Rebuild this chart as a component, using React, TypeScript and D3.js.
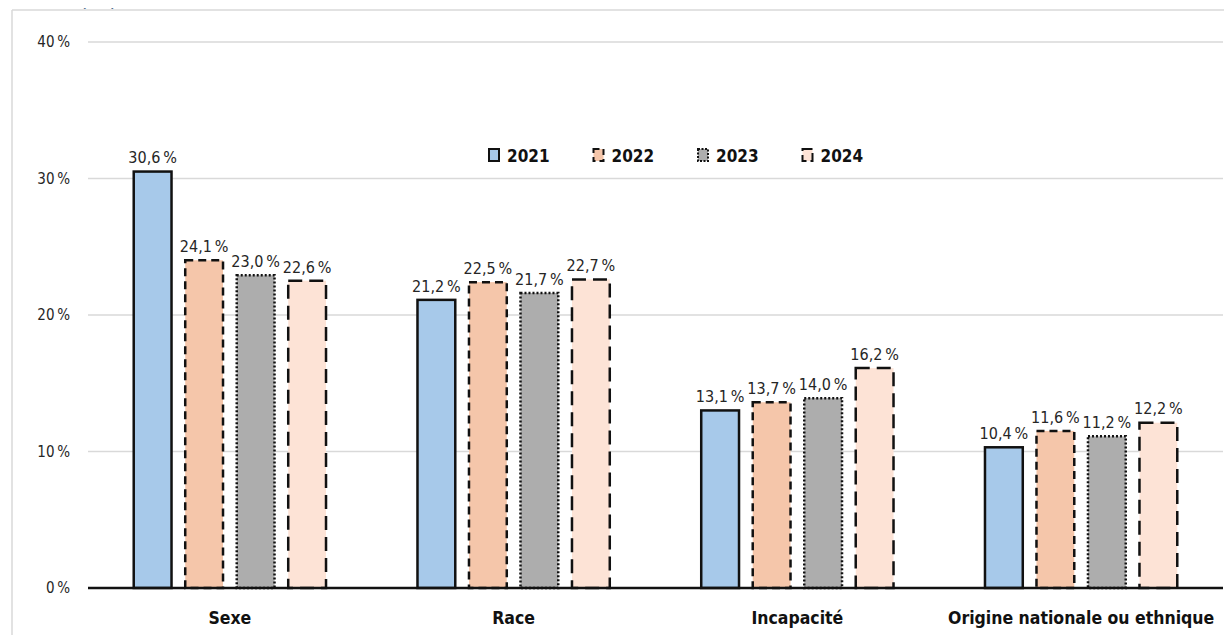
import React from "react";
import * as d3 from "d3";

const categories = ["Sexe", "Race", "Incapacité", "Origine nationale ou ethnique"];
const years = ["2021", "2022", "2023", "2024"];
const values2021 = [30.6, 21.2, 13.1, 10.4];
const values2022 = [24.1, 22.5, 13.7, 11.6];
const values2023 = [23.0, 21.7, 14.0, 11.2];
const values2024 = [22.6, 22.7, 16.2, 12.2];
const yTicks = [0, 10, 20, 30, 40];

const series = [values2021, values2022, values2023, values2024];
const fills = ["#a7c9ea", "#f5c6aa", "#adadad", "#fde3d6"];
const dashes = ["none", "8 5", "2 2", "14 7"];
const legendDashes = ["none", "6 4", "2 1.5", "10 4"];

const W = 1232;
const H = 643;
const COND = "'Liberation Sans Narrow', 'DejaVu Sans Condensed', 'Roboto Condensed', 'Open Sans', sans-serif";

const fmt = (v: number) => v.toFixed(1).replace(".", ",") + "\u202f%";

export default function App() {
  const x0 = d3.scaleBand().domain(categories).range([88, 1223]).paddingInner(0).paddingOuter(0);
  const y = d3.scaleLinear().domain([0, 40]).range([588, 42]);
  const bw = x0.bandwidth();
  const barW = bw * 0.142;
  const stride = bw * 0.1815;

  return (
    <div style={{ margin: -8 }}>
      <svg width={W} height={H} style={{ display: "block" }}>
        <rect x={0} y={0} width={W} height={H} fill="#fff" />
        <text x={9} y={5} fontFamily="'Liberation Sans', Arial, sans-serif" fontSize={18} fill="#4b6b8b">
          violence (HV), de 2021 à 2024
        </text>
        <line x1={12} x2={W} y1={10} y2={10} stroke="#d9d9d9" strokeWidth={1.5} />
        <line x1={12} x2={12} y1={10} y2={H} stroke="#d9d9d9" strokeWidth={1.5} />

        {yTicks.map((t) => (
          <g key={t}>
            {t > 0 && (
              <line x1={88} x2={1223} y1={y(t)} y2={y(t)} stroke="#d9d9d9" strokeWidth={1.5} />
            )}
            <text x={70} y={y(t) + 5} textAnchor="end" fontFamily={COND} fontSize={15} fill="#262626">
              {t + "\u202f%"}
            </text>
          </g>
        ))}

        {categories.map((c, ci) => {
          const cx = (x0(c) as number) + bw / 2;
          return (
            <g key={c}>
              {series.map((vals, si) => {
                const bx = cx + (si - 1.5) * stride - barW / 2;
                const top = y(vals[ci]);
                const inset = 1.25;
                return (
                  <g key={si}>
                    <rect
                      x={bx + inset}
                      y={top + inset}
                      width={barW - 2 * inset}
                      height={y(0) - top - inset}
                      fill={fills[si]}
                      stroke="#111"
                      strokeWidth={2.5}
                      strokeDasharray={dashes[si] === "none" ? undefined : dashes[si]}
                    />
                    <text
                      x={bx + barW / 2}
                      y={top - 7}
                      textAnchor="middle"
                      fontFamily={COND}
                      fontSize={16}
                      fill="#262626"
                    >
                      {fmt(vals[ci])}
                    </text>
                  </g>
                );
              })}
              <text
                x={cx}
                y={624}
                textAnchor="middle"
                fontFamily={COND}
                fontWeight="bold"
                fontSize={17.5}
                fill="#111"
              >
                {c}
              </text>
            </g>
          );
        })}

        <line x1={88} x2={1223} y1={y(0)} y2={y(0)} stroke="#111" strokeWidth={2.5} />

        {years.map((yr, i) => {
          const lx = 488 + i * 104.5;
          return (
            <g key={yr}>
              <rect
                x={lx + 1}
                y={149}
                width={10}
                height={12}
                fill={fills[i]}
                stroke="#111"
                strokeWidth={2}
                strokeDasharray={legendDashes[i] === "none" ? undefined : legendDashes[i]}
              />
              <text x={lx + 19} y={162} fontFamily={COND} fontWeight="bold" fontSize={17} fill="#111">
                {yr}
              </text>
            </g>
          );
        })}
      </svg>
    </div>
  );
}
